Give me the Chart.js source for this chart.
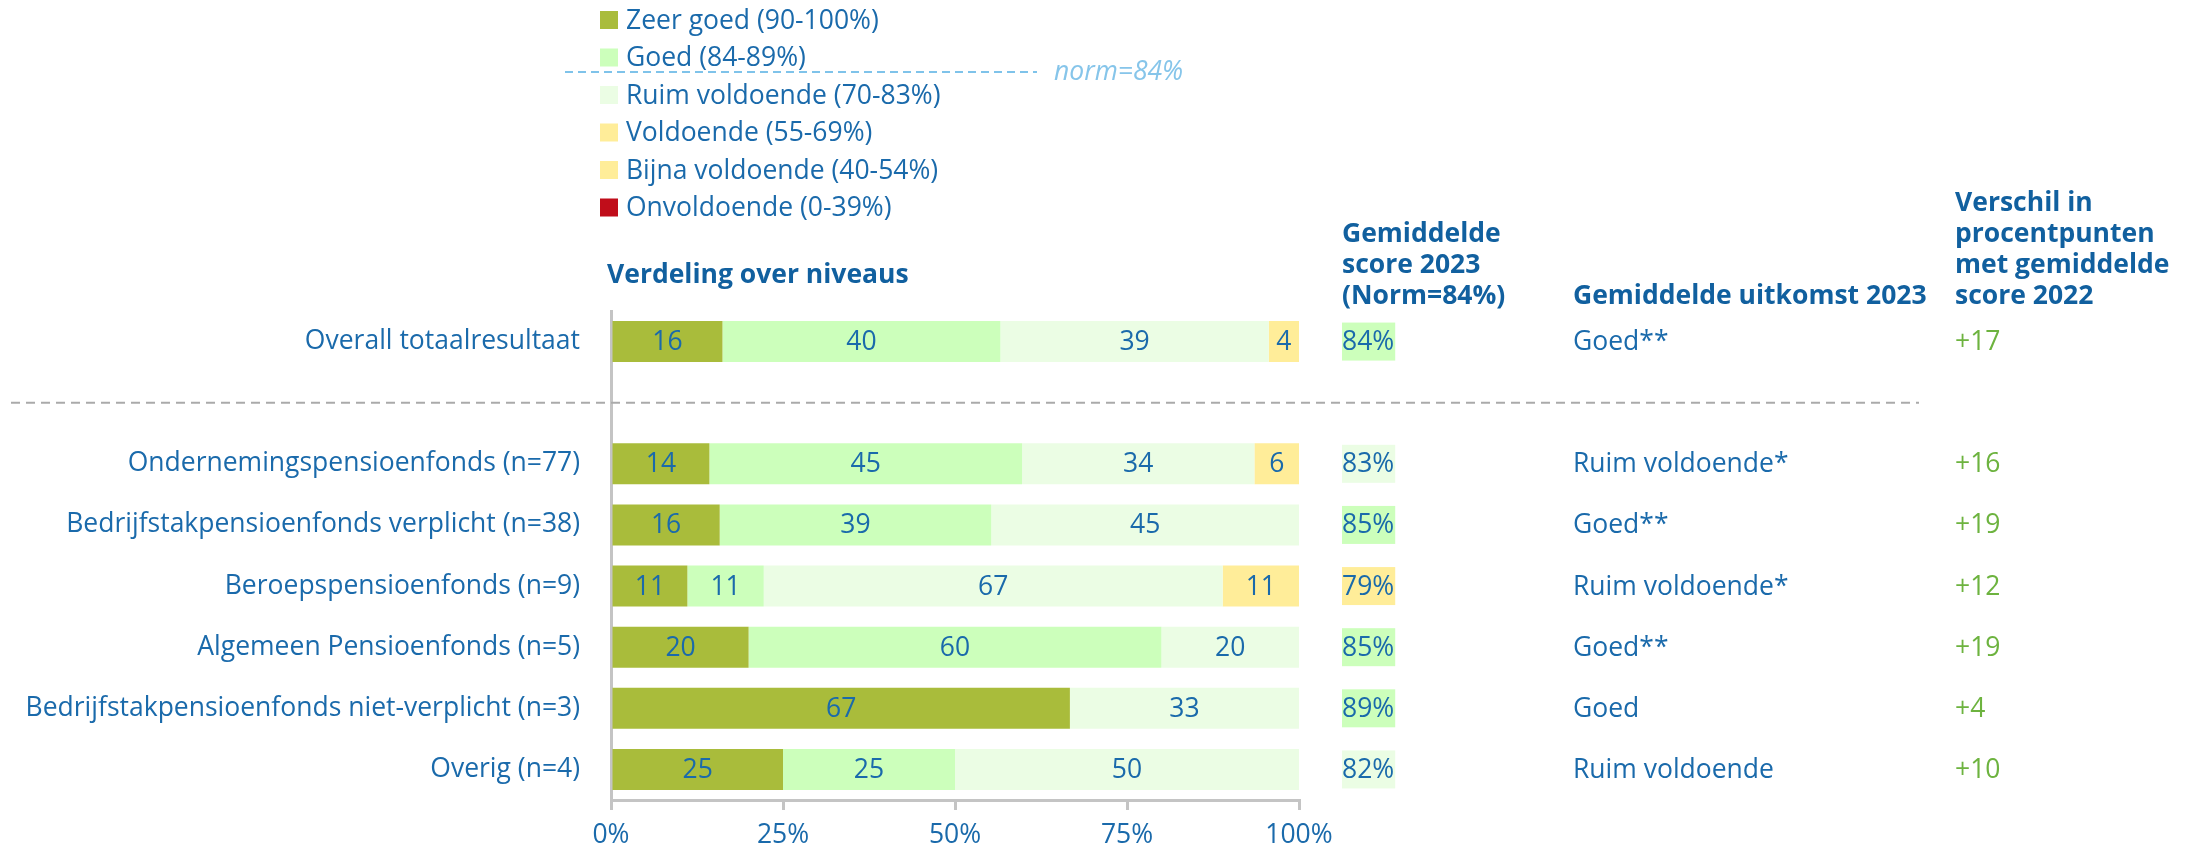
<!DOCTYPE html>
<html>
<head>
<meta charset="utf-8">
<script src="https://cdn.jsdelivr.net/npm/chart.js@4"></script>
<style>
  html, body { margin: 0; padding: 0; background: #ffffff; }
</style>
</head>
<body>
<canvas id="chart" width="2197" height="853"></canvas>
<script>
// rows (the empty one is the gap under the overall result)
const categories = [
    "Overall totaalresultaat",
    "",
    "Ondernemingspensioenfonds (n=77)",
    "Bedrijfstakpensioenfonds verplicht (n=38)",
    "Beroepspensioenfonds (n=9)",
    "Algemeen Pensioenfonds (n=5)",
    "Bedrijfstakpensioenfonds niet-verplicht (n=3)",
    "Overig (n=4)"
];

const levelNames = [
    "Zeer goed (90-100%)",
    "Goed (84-89%)",
    "Ruim voldoende (70-83%)",
    "Voldoende (55-69%)",
    "Bijna voldoende (40-54%)",
    "Onvoldoende (0-39%)"
];

// share per level, percent
const zeerGoed    = [16.2, null, 14.3, 15.8, 11.1, 20, 66.7, 25];
const goed        = [40.4, null, 45.45, 39.47, 11.1, 60, 0, 25];
const ruim        = [39.0, null, 33.77, 44.73, 66.7, 20, 33.3, 50];
const voldoende   = [4.4, null, 6.48, 0, 11.1, 0, 0, 0];
const bijna       = [0, null, 0, 0, 0, 0, 0, 0];
const onvoldoende = [0, null, 0, 0, 0, 0, 0, 0];

const scores   = ["84%", "", "83%", "85%", "79%", "85%", "89%", "82%"];
const scoreLevel = ["Goed", "", "Ruim voldoende", "Goed", "Voldoende", "Goed", "Goed", "Ruim voldoende"];
const outcomes = ["Goed**", "", "Ruim voldoende*", "Goed**", "Ruim voldoende*", "Goed**", "Goed", "Ruim voldoende"];
const diffs    = ["+17", "", "+16", "+19", "+12", "+19", "+4", "+10"];

const xTicks = [0, 25, 50, 75, 100];

const BLUE = "#1a6aab";
const HEAD = "#11609f";
const FONT = "'Open Sans', sans-serif";
const FS = 26.5;
const levelColors = ["#a9bc3b", "#ccffbb", "#ebfde4", "#ffed99", "#ffed99", "#c00d1a"];
const scoreColors = { "Goed": "#ccffbb", "Ruim voldoende": "#ebfde4", "Voldoende": "#ffed99" };

const seriesData = [zeerGoed, goed, ruim, voldoende, bijna, onvoldoende];
const datasets = seriesData.map((d, i) => ({
    label: levelNames[i],
    data: d,
    backgroundColor: levelColors[i],
    borderWidth: 0,
    barPercentage: 0.67,
    categoryPercentage: 1
}));

const overlay = {
    id: "overlay",
    afterDatasetsDraw(chart) {
        const ctx = chart.ctx;
        const y = chart.scales.y;
        ctx.save();

        // numbers inside the segments
        ctx.font = FS + "px " + FONT;
        ctx.fillStyle = BLUE;
        ctx.textAlign = "center";
        ctx.textBaseline = "middle";
        chart.data.datasets.forEach((ds, i) => {
            chart.getDatasetMeta(i).data.forEach((bar, j) => {
                const v = ds.data[j];
                if (!v) return;
                ctx.fillText(Math.round(v), (bar.x + bar.base) / 2, bar.y + 1);
            });
        });

        // separator under the overall row
        const sepY = y.getPixelForValue(1);
        ctx.strokeStyle = "#aaaaaa";
        ctx.lineWidth = 2;
        ctx.setLineDash([9, 6]);
        ctx.beginPath();
        ctx.moveTo(11, sepY);
        ctx.lineTo(1919, sepY);
        ctx.stroke();
        ctx.setLineDash([]);

        // right-hand columns
        ctx.textAlign = "left";
        categories.forEach((c, j) => {
            if (!scores[j]) return;
            const cy = y.getPixelForValue(j);
            ctx.font = FS + "px " + FONT;
            const w = ctx.measureText(scores[j]).width;
            ctx.fillStyle = scoreColors[scoreLevel[j]];
            ctx.fillRect(1342, cy - 19, w + 1, 38);
            ctx.fillStyle = BLUE;
            ctx.fillText(scores[j], 1342, cy + 1);
            ctx.fillText(outcomes[j], 1573, cy + 1);
            ctx.fillStyle = "#6db33f";
            ctx.fillText(diffs[j], 1955, cy + 1);
        });

        // column headers
        ctx.font = "bold " + FS + "px " + FONT;
        ctx.fillStyle = HEAD;
        ctx.fillText("Verdeling over niveaus", 607, 275);
        ["Gemiddelde", "score 2023", "(Norm=84%)"].forEach((t, k) => ctx.fillText(t, 1342, 234 + k * 31));
        ctx.fillText("Gemiddelde uitkomst 2023", 1573, 296);
        ["Verschil in", "procentpunten", "met gemiddelde", "score 2022"].forEach((t, k) => ctx.fillText(t, 1955, 203 + k * 31));

        // legend
        ctx.font = FS + "px " + FONT;
        chart.data.datasets.forEach((ds, i) => {
            const ly = 20 + i * 37.5;
            ctx.fillStyle = ds.backgroundColor;
            ctx.fillRect(600, ly - 9, 18, 18);
            ctx.fillStyle = BLUE;
            ctx.fillText(ds.label, 626, ly + 1);
        });

        // norm line
        ctx.strokeStyle = "#7fc3ea";
        ctx.lineWidth = 2;
        ctx.setLineDash([8, 5]);
        ctx.beginPath();
        ctx.moveTo(565, 72);
        ctx.lineTo(1037, 72);
        ctx.stroke();
        ctx.setLineDash([]);
        ctx.font = "italic " + FS + "px " + FONT;
        ctx.fillStyle = "#86c5ea";
        ctx.fillText("norm=84%", 1054, 72);

        ctx.restore();
    }
};

new Chart(document.getElementById("chart"), {
    type: "bar",
    data: { labels: categories, datasets: datasets },
    options: {
        indexAxis: "y",
        responsive: false,
        animation: false,
        layout: { padding: { top: 311, right: 898, left: 0, bottom: 0 } },
        plugins: { legend: { display: false }, tooltip: { enabled: false } },
        scales: {
            x: {
                stacked: true,
                min: 0,
                max: 100,
                afterBuildTicks: s => { s.ticks = xTicks.map(v => ({ value: v })); },
                afterFit: s => { s.height = 53; },
                border: { color: "#c4c4c4", width: 3 },
                grid: { drawOnChartArea: false, drawTicks: true, tickLength: 10, color: "#c4c4c4", lineWidth: 3 },
                ticks: {
                    color: BLUE,
                    font: { family: FONT, size: FS },
                    padding: 10,
                    maxRotation: 0,
                    callback: v => v + "%"
                }
            },
            y: {
                stacked: true,
                afterFit: s => { s.width = 611; },
                border: { color: "#c4c4c4", width: 3 },
                grid: { display: false, drawTicks: false },
                ticks: {
                    color: BLUE,
                    font: { family: FONT, size: FS },
                    padding: 31,
                    autoSkip: false
                }
            }
        }
    },
    plugins: [overlay]
});
</script>
</body>
</html>
